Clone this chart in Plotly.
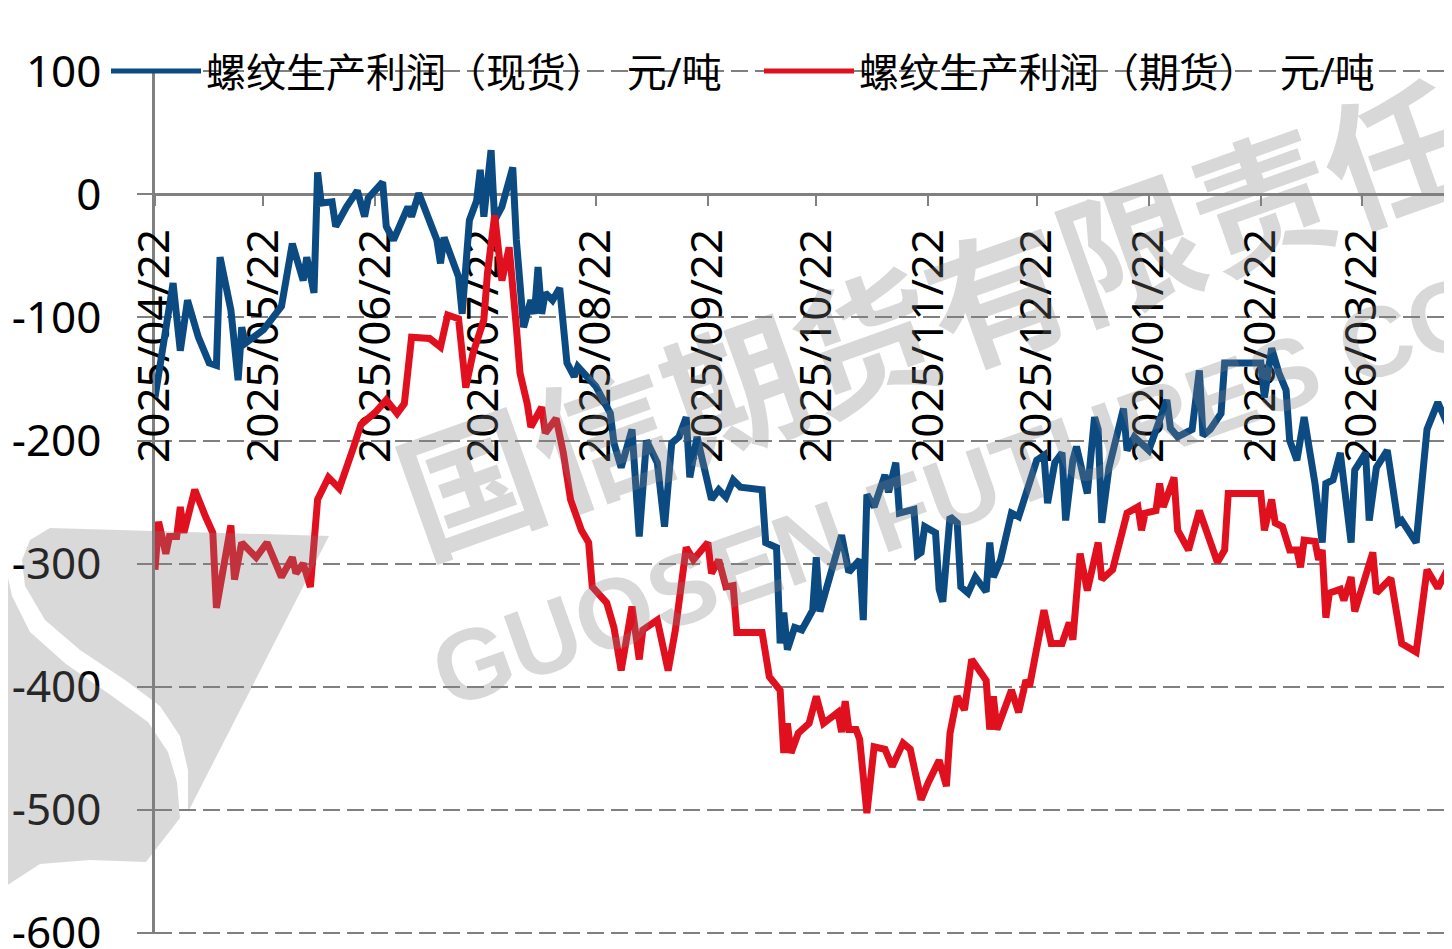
import plotly.graph_objects as go

BLUE_NAME = "螺纹生产利润（现货）  元/吨"
RED_NAME = "螺纹生产利润（期货）  元/吨"

BLUE_DATES = [
    "2025-04-22", "2025-04-24", "2025-04-27", "2025-04-29", "2025-05-01", "2025-05-04", "2025-05-07",
    "2025-05-09", "2025-05-10", "2025-05-13", "2025-05-15", "2025-05-16", "2025-05-17", "2025-05-22",
    "2025-05-27", "2025-05-30", "2025-06-02", "2025-06-03", "2025-06-05", "2025-06-06", "2025-06-07",
    "2025-06-10", "2025-06-11", "2025-06-14", "2025-06-17", "2025-06-19", "2025-06-20", "2025-06-24",
    "2025-06-25", "2025-06-27", "2025-07-01", "2025-07-02", "2025-07-04", "2025-07-09", "2025-07-10",
    "2025-07-11", "2025-07-15", "2025-07-16", "2025-07-18", "2025-07-20", "2025-07-21", "2025-07-22",
    "2025-07-24", "2025-07-25", "2025-07-27", "2025-07-30", "2025-07-31", "2025-08-02", "2025-08-04",
    "2025-08-05", "2025-08-06", "2025-08-07", "2025-08-08", "2025-08-10", "2025-08-12", "2025-08-14",
    "2025-08-16", "2025-08-17", "2025-08-19", "2025-08-22", "2025-08-26", "2025-08-27", "2025-08-29",
    "2025-09-01", "2025-09-03", "2025-09-05", "2025-09-08", "2025-09-10", "2025-09-12", "2025-09-14",
    "2025-09-16", "2025-09-17", "2025-09-19", "2025-09-23", "2025-09-25", "2025-09-27", "2025-09-29",
    "2025-10-01", "2025-10-07", "2025-10-08", "2025-10-11", "2025-10-12", "2025-10-13", "2025-10-14",
    "2025-10-16", "2025-10-18", "2025-10-21", "2025-10-22", "2025-10-23", "2025-10-29", "2025-10-31",
    "2025-11-03", "2025-11-04", "2025-11-05", "2025-11-07", "2025-11-10", "2025-11-11", "2025-11-13",
    "2025-11-14", "2025-11-18", "2025-11-19", "2025-11-20", "2025-11-21", "2025-11-24", "2025-11-25",
    "2025-11-26", "2025-11-28", "2025-11-30", "2025-12-01", "2025-12-03", "2025-12-05", "2025-12-08",
    "2025-12-09", "2025-12-10", "2025-12-12", "2025-12-15", "2025-12-17", "2025-12-20", "2025-12-22",
    "2025-12-24", "2025-12-25", "2025-12-27", "2025-12-29", "2025-12-30", "2026-01-01", "2026-01-02",
    "2026-01-05", "2026-01-07", "2026-01-08", "2026-01-09", "2026-01-11", "2026-01-14", "2026-01-15",
    "2026-01-16", "2026-01-18", "2026-01-22", "2026-01-25", "2026-01-27", "2026-01-28", "2026-01-30",
    "2026-02-01", "2026-02-03", "2026-02-05", "2026-02-06", "2026-02-08", "2026-02-11", "2026-02-12",
    "2026-02-22", "2026-02-23", "2026-02-25", "2026-02-27", "2026-03-01", "2026-03-02", "2026-03-04",
    "2026-03-06", "2026-03-08", "2026-03-09", "2026-03-11", "2026-03-12", "2026-03-14", "2026-03-16",
    "2026-03-19", "2026-03-20", "2026-03-23", "2026-03-24", "2026-03-26", "2026-03-29", "2026-04-01",
    "2026-04-02", "2026-04-06", "2026-04-08", "2026-04-09", "2026-04-12", "2026-04-15",
]
BLUE_VALUES = [
    -165, -125, -72, -127, -86, -116, -137,
    -139, -51, -94, -151, -108, -121, -110,
    -91, -40, -70, -51, -80, 18, -7,
    -6, -26, -10, 3, -18, -3, 10,
    -26, -37, -10, -18, 1, -37, -56,
    -35, -67, -97, -21, -5, 20, -18,
    36, -21, -10, 22, -37, -108, -86,
    -97, -59, -97, -80, -86, -76, -137,
    -148, -140, -146, -156, -178, -202, -222,
    -191, -278, -200, -218, -270, -202, -197,
    -181, -230, -197, -248, -240, -246, -232,
    -238, -240, -283, -287, -365, -340, -370,
    -352, -354, -338, -295, -339, -277, -307,
    -297, -346, -244, -254, -228, -242, -218,
    -259, -256, -293, -291, -270, -275, -321,
    -331, -262, -267, -319, -324, -311, -323,
    -283, -311, -297, -259, -262, -232, -216,
    -212, -251, -218, -210, -265, -216, -205,
    -243, -181, -191, -267, -222, -186, -174,
    -208, -197, -208, -183, -167, -190, -197,
    -194, -191, -143, -196, -191, -178, -137,
    -137, -165, -125, -145, -159, -200, -216,
    -181, -218, -235, -283, -235, -232, -210,
    -283, -224, -210, -265, -222, -208, -267,
    -265, -283, -224, -191, -169, -189,
]

RED_DATES = [
    "2025-04-22", "2025-04-23", "2025-04-25", "2025-04-26", "2025-04-28", "2025-04-29", "2025-04-30",
    "2025-05-03", "2025-05-06", "2025-05-08", "2025-05-09", "2025-05-13", "2025-05-14", "2025-05-16",
    "2025-05-20", "2025-05-23", "2025-05-27", "2025-05-30", "2025-05-31", "2025-06-02", "2025-06-04",
    "2025-06-05", "2025-06-06", "2025-06-09", "2025-06-12", "2025-06-16", "2025-06-18", "2025-06-22",
    "2025-06-25", "2025-06-28", "2025-06-30", "2025-07-02", "2025-07-07", "2025-07-10", "2025-07-12",
    "2025-07-15", "2025-07-17", "2025-07-19", "2025-07-22", "2025-07-23", "2025-07-25", "2025-07-27",
    "2025-07-29", "2025-07-31", "2025-08-01", "2025-08-03", "2025-08-04", "2025-08-07", "2025-08-08",
    "2025-08-11", "2025-08-13", "2025-08-15", "2025-08-18", "2025-08-20", "2025-08-21", "2025-08-25",
    "2025-08-27", "2025-08-29", "2025-09-01", "2025-09-03", "2025-09-04", "2025-09-08", "2025-09-11",
    "2025-09-13", "2025-09-16", "2025-09-18", "2025-09-22", "2025-09-23", "2025-09-25", "2025-09-27",
    "2025-09-29", "2025-09-30", "2025-10-07", "2025-10-09", "2025-10-12", "2025-10-13", "2025-10-14",
    "2025-10-15", "2025-10-17", "2025-10-20", "2025-10-22", "2025-10-24", "2025-10-28", "2025-10-29",
    "2025-10-30", "2025-10-31", "2025-11-02", "2025-11-03", "2025-11-05", "2025-11-07", "2025-11-10",
    "2025-11-12", "2025-11-15", "2025-11-17", "2025-11-20", "2025-11-22", "2025-11-25", "2025-11-27",
    "2025-11-28", "2025-11-30", "2025-12-02", "2025-12-04", "2025-12-08", "2025-12-09", "2025-12-10",
    "2025-12-11", "2025-12-15", "2025-12-17", "2025-12-19", "2025-12-20", "2025-12-24", "2025-12-26",
    "2025-12-29", "2025-12-31", "2026-01-01", "2026-01-03", "2026-01-05", "2026-01-08", "2026-01-09",
    "2026-01-12", "2026-01-16", "2026-01-19", "2026-01-20", "2026-01-21", "2026-01-24", "2026-01-25",
    "2026-01-26", "2026-01-29", "2026-01-30", "2026-02-02", "2026-02-05", "2026-02-10", "2026-02-12",
    "2026-02-13", "2026-02-22", "2026-02-23", "2026-02-25", "2026-02-26", "2026-02-28", "2026-03-02",
    "2026-03-04", "2026-03-05", "2026-03-06", "2026-03-09", "2026-03-10", "2026-03-11", "2026-03-12",
    "2026-03-13", "2026-03-16", "2026-03-17", "2026-03-19", "2026-03-20", "2026-03-25", "2026-03-26",
    "2026-03-30", "2026-04-02", "2026-04-06", "2026-04-09", "2026-04-12", "2026-04-15",
]
RED_VALUES = [
    -305, -266, -292, -278, -278, -254, -275,
    -240, -262, -275, -336, -269, -313, -283,
    -295, -283, -311, -295, -308, -300, -319,
    -287, -248, -230, -239, -205, -187, -177,
    -167, -178, -170, -116, -117, -124, -98,
    -101, -157, -129, -102, -64, -17, -70,
    -43, -108, -145, -170, -189, -173, -194,
    -182, -210, -248, -273, -283, -319, -332,
    -352, -387, -335, -378, -354, -346, -387,
    -354, -287, -297, -283, -308, -297, -319,
    -318, -356, -356, -392, -403, -454, -430,
    -454, -438, -430, -408, -430, -421, -437,
    -412, -435, -435, -443, -503, -449, -451,
    -465, -446, -451, -492, -478, -460, -481,
    -438, -408, -419, -378, -395, -435, -408,
    -435, -403, -421, -395, -400, -338, -365,
    -365, -348, -362, -292, -322, -283, -313,
    -305, -259, -254, -273, -259, -257, -235,
    -254, -230, -273, -289, -257, -299, -289,
    -243, -243, -273, -248, -267, -270, -289,
    -289, -303, -281, -282, -297, -289, -344,
    -324, -321, -330, -311, -339, -291, -324,
    -312, -365, -372, -305, -320, -303,
]

X_TICKS = [
    "2025-04-22", "2025-05-22", "2025-06-22", "2025-07-22", "2025-08-22", "2025-09-22",
    "2025-10-22", "2025-11-22", "2025-12-22", "2026-01-22", "2026-02-22", "2026-03-22",
]
Y_TICKS = [-600, -500, -400, -300, -200, -100, 0, 100]
Y_LABELS = ["-600", "-500", "-400", "-300", "-200", "-100", "0", "100"]

BLUE = "#0c4a82"
RED = "#e0101f"
AXIS_GRAY = "#808080"
FONT = "Noto Sans, Noto Sans CJK SC, sans-serif"

Y_RANGE = [-601.2, 101.2]

# page offset of the figure div (default body margin)
OFF = 8
PAGE_W, PAGE_H = 1452, 949
W, H = PAGE_W - OFF, PAGE_H - OFF
# plot area in page pixels
L, T, R_EDGE, B_EDGE = 155, 70, 1452, 934


def px_x(px):
    return (px - L) / (R_EDGE - L)


def px_y(py):
    return (B_EDGE - py) / (B_EDGE - T)


fig = go.Figure()
fig.add_trace(go.Scatter(x=BLUE_DATES, y=BLUE_VALUES, mode="lines", name=BLUE_NAME,
                         line=dict(color=BLUE, width=7), legend="legend"))
fig.add_trace(go.Scatter(x=RED_DATES, y=RED_VALUES, mode="lines", name=RED_NAME,
                         line=dict(color=RED, width=7), legend="legend2"))


# watermark logo (decorative)
def poly(points):
    return "M " + " L ".join(f"{px_x(x):.5f},{px_y(y):.5f}" for x, y in points) + " Z"


logo_right = [(329, 536), (50, 528), (30, 540), (22, 560), (25, 586), (45, 620), (80, 650),
              (125, 680), (160, 706), (180, 736), (188, 770), (188, 812)]
logo_left = [(0, 582), (8, 578), (12, 596), (30, 632), (66, 664), (112, 696), (148, 722),
             (168, 752), (177, 782), (180, 818), (146, 862), (90, 860), (40, 864), (0, 890)]
for pts in (logo_right, logo_left):
    fig.add_shape(type="path", path=poly(pts), xref="paper", yref="paper",
                  fillcolor="rgb(128,128,128)", opacity=0.3, line=dict(width=0), layer="above")

fig.add_annotation(text="国信期货有限责任", x=px_x(930), y=px_y(312), xref="paper", yref="paper",
                   xanchor="center", yanchor="middle",
                   showarrow=False, textangle=-19.6, opacity=0.3,
                   font=dict(family="Noto Sans CJK SC", size=140, color="rgb(128,128,128)", weight=700))
fig.add_annotation(text="GUOSEN FUTURES CO", x=px_x(959), y=px_y(490), xref="paper", yref="paper",
                   xanchor="center", yanchor="middle",
                   showarrow=False, textangle=-19.6, opacity=0.3,
                   font=dict(family="Liberation Sans", size=100, color="rgb(128,128,128)", weight=700))

legend_style = dict(orientation="h", xref="container", yref="paper", y=px_y(71),
                    xanchor="left", yanchor="middle",
                    bgcolor="rgba(0,0,0,0)", font=dict(size=40, color="black"),
                    itemwidth=90, itemsizing="constant")

fig.update_layout(
    width=W, height=H,
    margin=dict(l=L - OFF, r=PAGE_W - R_EDGE, t=T - OFF, b=PAGE_H - B_EDGE, pad=0, autoexpand=False),
    paper_bgcolor="white", plot_bgcolor="white",
    font=dict(family=FONT, size=44, color="black"),
    showlegend=True,
    legend=dict(legend_style, x=(106 - OFF) / W),
    legend2=dict(legend_style, x=(759 - OFF) / W),
    xaxis=dict(
        type="date", range=["2025-04-22", "2026-04-15 22:00"],
        tickvals=X_TICKS, tickformat="%Y/%m/%d", tickangle=-90,
        anchor="free", position=(0 - Y_RANGE[0]) / (Y_RANGE[1] - Y_RANGE[0]),
        showline=True, linecolor=AXIS_GRAY, linewidth=2.5,
        ticks="outside", ticklen=10, tickwidth=2, tickcolor=AXIS_GRAY,
        showgrid=False, zeroline=False, layer="below traces", ticklabelstandoff=5,
        tickfont=dict(size=44, color="black"),
    ),
    yaxis=dict(
        range=Y_RANGE, tickvals=Y_TICKS, ticktext=Y_LABELS,
        showgrid=True, gridcolor=AXIS_GRAY, gridwidth=2, griddash="17px,7px",
        showline=True, linecolor=AXIS_GRAY, linewidth=2.5,
        ticks="outside", ticklen=15, tickwidth=2, tickcolor=AXIS_GRAY,
        zeroline=False, ticklabelstandoff=27, layer="below traces",
        ticklabeloverflow="allow",
        tickfont=dict(size=44, color="black"),
    ),
)

fig.write_html("out.html")
